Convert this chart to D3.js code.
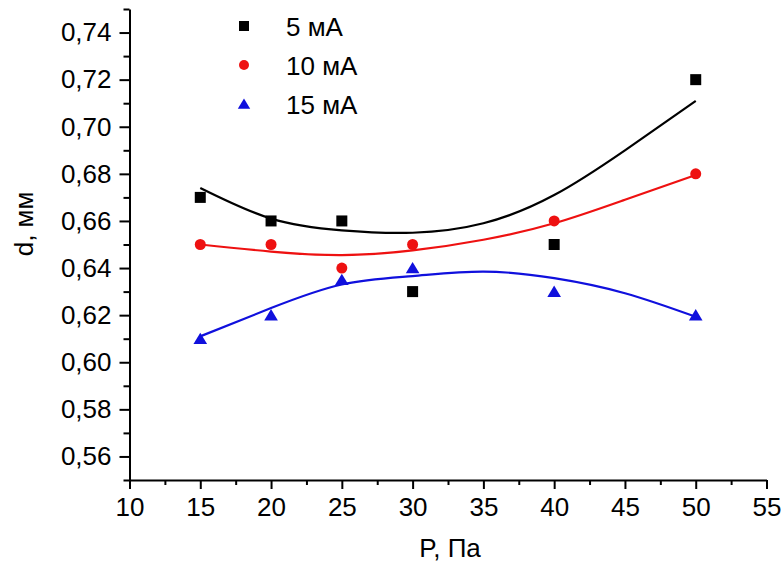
<!DOCTYPE html>
<html>
<head>
<meta charset="utf-8">
<script src="https://cdn.jsdelivr.net/npm/d3@7"></script>
<style>
  body { margin: 0; background: #fff; }
  svg { display: block; font-family: Arial, "Liberation Sans", sans-serif; }
</style>
</head>
<body>
<svg id="ch" width="782" height="563"></svg>
<script>
// measured points
const pressure = [15, 20, 25, 30, 40, 50];
const d5 = [0.67, 0.66, 0.66, 0.63, 0.65, 0.72];
const d10 = [0.65, 0.65, 0.64, 0.65, 0.66, 0.68];
const d15 = [0.61, 0.62, 0.635, 0.64, 0.63, 0.62];

// fitted curves
const fitX = [15, 20, 25, 30, 35, 40, 45, 50];
const fit5 = [0.674, 0.661, 0.656, 0.655, 0.659, 0.671, 0.690, 0.711];
const fit10 = [0.650, 0.647, 0.6455, 0.6475, 0.652, 0.659, 0.669, 0.6795];
const fit15 = [0.611, 0.623, 0.633, 0.6366, 0.6385, 0.6357, 0.6293, 0.6193];

const seriesNames = ["5 мА", "10 мА", "15 мА"];
const xTicks = [10, 15, 20, 25, 30, 35, 40, 45, 50, 55];
const yTicks = [0.56, 0.58, 0.60, 0.62, 0.64, 0.66, 0.68, 0.70, 0.72, 0.74];

const svg = d3.select("#ch");
const x = d3.scaleLinear().domain([10, 55]).range([129.5, 766.5]);
const y = d3.scaleLinear().domain([0.55, 0.75]).range([480, 9]);
const fmt = v => d3.format(".2f")(v).replace(".", ",");

const series = [
  { name: seriesNames[0], pts: d5, fit: fit5, color: "#000000", shape: "sq" },
  { name: seriesNames[1], pts: d10, fit: fit10, color: "#ee1111", shape: "ci" },
  { name: seriesNames[2], pts: d15, fit: fit15, color: "#1010dd", shape: "tr" }
];

function marker(g, shape, color, s) {
  if (shape === "sq") g.append("rect").attr("x", -s / 2).attr("y", -s / 2).attr("width", s).attr("height", s).attr("fill", color);
  else if (shape === "ci") g.append("circle").attr("r", s / 2).attr("fill", color);
  else g.append("path").attr("d", `M0,${-s * 0.55}L${s * 0.62},${s * 0.48}L${-s * 0.62},${s * 0.48}Z`).attr("fill", color);
}

// axes
const minorX = d3.range(12.5, 55, 5);
const minorY = d3.range(0.55, 0.751, 0.02);

const gx = svg.append("g").attr("transform", "translate(0,480)");
gx.call(d3.axisBottom(x).tickValues(xTicks).tickSize(9).tickSizeOuter(0).tickPadding(9).tickFormat(d => d));
gx.append("g").call(d3.axisBottom(x).tickValues(minorX).tickSize(5).tickSizeOuter(0).tickFormat(""))
  .select(".domain").remove();

const gy = svg.append("g").attr("transform", "translate(129.5,0)");
gy.call(d3.axisLeft(y).tickValues(yTicks).tickSize(10).tickSizeOuter(0).tickPadding(8).tickFormat(fmt));
gy.append("g").call(d3.axisLeft(y).tickValues(minorY).tickSize(6).tickSizeOuter(0).tickFormat(""))
  .select(".domain").remove();

svg.selectAll(".domain, .tick line").attr("stroke", "#000").attr("stroke-width", 2);
svg.selectAll(".tick text").attr("font-size", 26).attr("fill", "#000")
  .attr("font-family", "Arial, 'Liberation Sans', sans-serif");

// axis titles
svg.append("text").attr("x", 450).attr("y", 557).attr("text-anchor", "middle")
  .attr("font-size", 26).text("P, Па");
svg.append("text").attr("transform", "translate(33,224) rotate(-90)").attr("text-anchor", "middle")
  .attr("font-size", 26).text("d, мм");

// fit lines
const line = d3.line().x(d => x(d[0])).y(d => y(d[1])).curve(d3.curveNatural);
series.forEach(s => {
  svg.append("path").attr("d", line(fitX.map((v, i) => [v, s.fit[i]])))
    .attr("fill", "none").attr("stroke", s.color).attr("stroke-width", 2.2);
});

// points
series.forEach(s => {
  svg.append("g").selectAll("g").data(s.pts).enter().append("g")
    .attr("transform", (d, i) => `translate(${x(pressure[i])},${y(d)})`)
    .each(function () { marker(d3.select(this), s.shape, s.color, 11); });
});

// legend
const leg = svg.append("g");
series.forEach((s, i) => {
  const row = leg.append("g").attr("transform", `translate(244,${26 + i * 39})`);
  marker(row, s.shape, s.color, 10);
  row.append("text").attr("x", 42).attr("y", 10).attr("font-size", 26).text(s.name);
});
</script>
</body>
</html>
